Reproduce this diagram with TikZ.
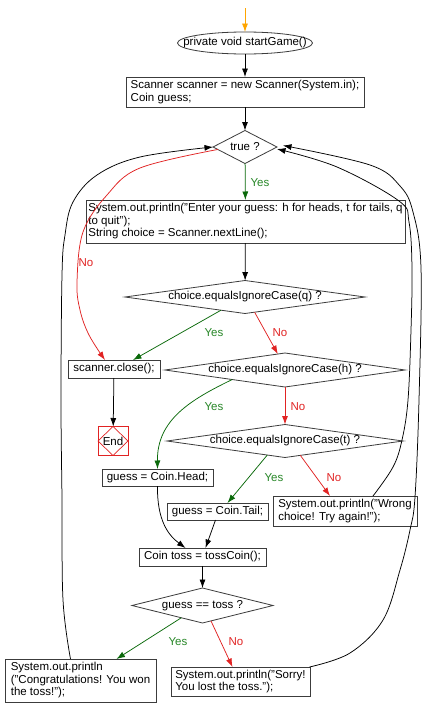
\documentclass[tikz,border=0pt]{standalone}
\usepackage{fontspec}
\setmainfont{Liberation Sans}
\usetikzlibrary{shapes.geometric,arrows.meta,calc}
\definecolor{ygreen}{RGB}{40,135,40}
\definecolor{agreen}{RGB}{10,105,10}
\definecolor{nred}{RGB}{225,35,35}
\definecolor{oarrow}{RGB}{255,165,0}
\definecolor{boxline}{RGB}{60,60,60}
\begin{document}
\begin{tikzpicture}[x=1pt,y=-1pt,
  font=\fontsize{11.5}{12.5}\selectfont,
  every node/.style={inner sep=0pt, outer sep=0pt},
  box/.style={draw=boxline, line width=0.8pt, rectangle, align=left},
  dec/.style={draw=boxline, line width=0.8pt, diamond},
  arr/.style={line width=0.75pt, draw=black, -{Latex[length=8.5pt,width=6pt]}},
  oarr/.style={arr, draw=oarrow},
  yarr/.style={arr, draw=agreen},
  narr/.style={arr, draw=nred},
  ylab/.style={text=ygreen},
  nlab/.style={text=nred}]
\useasboundingbox (0,0) rectangle (433,712);
\fill[white] (0,0) rectangle (433,712);

% nodes
\node[ellipse, draw=boxline, line width=0.8pt, minimum width=135pt, minimum height=22pt] (start) at (245,43) {\makebox[0pt]{private void startGame()}};
\node[box, minimum width=238pt, minimum height=30pt] (init) at (245,92) {Scanner scanner = new Scanner(System.in);\\Coin guess;};
\node[dec, minimum width=64pt, minimum height=33pt] (true) at (245,147) {\makebox[0pt]{true ?}};
\node[box, minimum width=319pt, minimum height=43pt] (prompt) at (245.5,221.5) {System.out.println("Enter your guess: h for heads, t for tails, q\\to quit");\\String choice = Scanner.nextLine();};
\node[dec, minimum width=240pt, minimum height=33pt] (q) at (245,297) {\makebox[0pt]{choice.equalsIgnoreCase(q) ?}};
\node[box, minimum width=92pt, minimum height=18pt] (close) at (114,369) {scanner.close();};
\node[dec, minimum width=240pt, minimum height=34pt] (h) at (285,370) {\makebox[0pt]{choice.equalsIgnoreCase(h) ?}};
\node[draw=nred, line width=0.7pt, minimum width=30pt, minimum height=29pt] (end) at (113,441) {End};
\node[dec, minimum width=236pt, minimum height=33pt] (t) at (285,441) {\makebox[0pt]{choice.equalsIgnoreCase(t) ?}};
\node[box, minimum width=111pt, minimum height=17pt] (head) at (157.5,477.5) {guess = Coin.Head;};
\node[box, minimum width=101pt, minimum height=17pt] (tail) at (217.5,511.5) {guess = Coin.Tail;};
\node[box, minimum width=144pt, minimum height=30pt] (wrong) at (345,511) {System.out.println("Wrong\\choice! Try again!");};
\node[box, minimum width=127pt, minimum height=18pt] (toss) at (202.5,557) {Coin toss = tossCoin();};
\node[dec, minimum width=141pt, minimum height=35pt] (gt) at (202.5,605.5) {\makebox[0pt]{guess == toss ?}};
\node[box, minimum width=151pt, minimum height=43pt] (congr) at (80.5,680.5) {System.out.println\\("Congratulations! You won\\the toss!");};
\node[box, minimum width=139pt, minimum height=29pt] (sorry) at (240.5,681.5) {System.out.println("Sorry!\\You lost the toss.");};

\draw[nred, line width=0.7pt] (end.north) -- (end.east) -- (end.south) -- (end.west) -- cycle;

% labels
\node[ylab] (l1) at (260,183) {Yes};
\node[nlab] (l2) at (86,263) {No};
\node[ylab] (l3) at (214,333) {Yes};
\node[nlab] (l4) at (280,333) {No};
\node[ylab] (l5) at (214,407) {Yes};
\node[nlab] (l6) at (298,407) {No};
\node[ylab] (l7) at (274,478) {Yes};
\node[nlab] (l8) at (334,478) {No};
\node[ylab] (l9) at (178,642) {Yes};
\node[nlab] (l10) at (236,642) {No};

% connectors
\coordinate (entry) at (245,8);
\draw[oarr] (entry) -- (start);
\draw[arr] (start) -- (init);
\draw[arr] (init) -- (true);
\draw[yarr] (true) -- (prompt);
\draw[arr] (prompt) -- (q);
\draw[yarr] ($(q.south)!0.2!(q.west)$) -- ([xshift=19pt]close.north);
\draw[narr] ($(q.south)!0.08!(q.east)$) -- ($(h.north)!0.06!(h.west)$);
\draw[narr] (h) -- (t);
\draw[yarr] ($(h.south)!0.44!(h.west)$) .. controls (190,400) and (157,420) .. (head.north);
\draw[arr] (close) -- (end);
\draw[yarr] ($(t.south)!0.15!(t.west)$) -- ([xshift=10pt]tail.north);
\draw[narr] ($(t.south)!0.13!(t.east)$) -- ([xshift=-15pt]wrong.north);
\draw[arr] (head.south) .. controls (157,520) and (168,535) .. ([xshift=-17pt]toss.north);
\draw[arr] ([xshift=-2pt]tail.south) -- ([xshift=3pt]toss.north);
\draw[arr] (toss) -- (gt);
\draw[yarr] ($(gt.south)!0.3!(gt.west)$) -- ([xshift=36pt]congr.north);
\draw[narr] ($(gt.south)!0.12!(gt.east)$) -- ([xshift=-8pt]sorry.north);

% loop-backs
\draw[narr] plot[smooth, tension=0.6] coordinates {($(true.west)!0.15!(true.south)$) (140,168) (107,195) (83,232) (77,282) (80,310) (89,335) ([xshift=-9pt]close.north)};
\draw[arr] plot[smooth, tension=0.6] coordinates {([xshift=-10pt]congr.north) (63,600) (62,500) (61,400) (62,275) (65,235) (73,202) (97,175) (140,157) (true.west)};
\draw[arr] plot[smooth, tension=0.6] coordinates {([xshift=-0.5pt]sorry.north east) (350,653) (383,620) (400,570) (410,530) (415,497) (419,400) (421,268) (413,212) (400,186) (370,165) ([xshift=6pt,yshift=1.5pt]true.east)};
\draw[arr] plot[smooth, tension=0.6] coordinates {([xshift=28pt]wrong.north) (393,467) (402,440) (408,400) (411,330) (412,268) (409,222) (399,201) (337,167) ([yshift=-2pt]true.east)};
\end{tikzpicture}
\end{document}
